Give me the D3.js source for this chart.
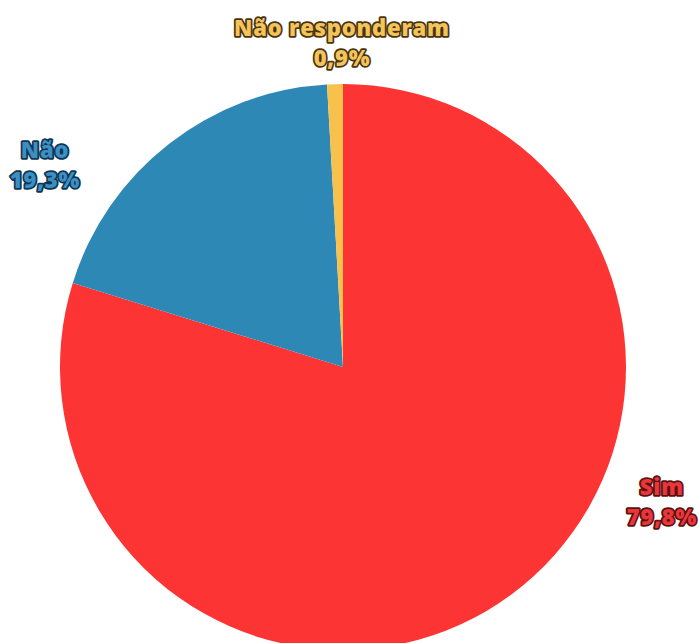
<!DOCTYPE html>
<html><head><meta charset="utf-8">
<script src="https://cdn.jsdelivr.net/npm/d3@7"></script>
<style>body{margin:0;background:#fff}svg{display:block}</style>
</head><body>
<script>
const categories = ["Sim", "Não", "Não responderam"];
const values = [79.8, 19.3, 0.9];
const labels = ["79,8%", "19,3%", "0,9%"];
const colors = ["#fc3434", "#2e88b6", "#f7c14c"];
const textFill = ["#e8373a", "#3b8fc2", "#f3c45c"];
const textStroke = ["#5c1010", "#0f3553", "#4a3410"];
const labelXY = [[662, 487], [45, 150], [342, 28]];

const W = 700, H = 643, cx = 343, cy = 367, R = 283;
const svg = d3.select("body").append("svg").attr("width", W).attr("height", H);
const data = categories.map((c, i) => ({c, v: values[i], i}));
const pie = d3.pie().value(d => d.v).sort(null);
const arc = d3.arc().innerRadius(0).outerRadius(R);
const g = svg.append("g").attr("transform", `translate(${cx},${cy})`);
g.selectAll("path").data(pie(data)).join("path")
  .attr("d", arc).attr("fill", d => colors[d.data.i]);

const lg = svg.append("g").attr("font-family", "'Open Sans', sans-serif")
  .attr("font-weight", 800).attr("font-size", 22).attr("letter-spacing", 0.8)
  .attr("text-anchor", "middle");
data.forEach((d, i) => {
  const t = lg.append("text").attr("x", labelXY[i][0]).attr("y", labelXY[i][1])
    .attr("fill", textFill[i]).attr("stroke", textStroke[i]).attr("stroke-width", 3.5)
    .attr("stroke-linejoin", "round").attr("paint-order", "stroke");
  t.append("tspan").attr("x", labelXY[i][0]).attr("dy", "0.35em").text(d.c);
  t.append("tspan").attr("x", labelXY[i][0]).attr("dy", 30).text(labels[i]);
});
</script>
</body></html>
